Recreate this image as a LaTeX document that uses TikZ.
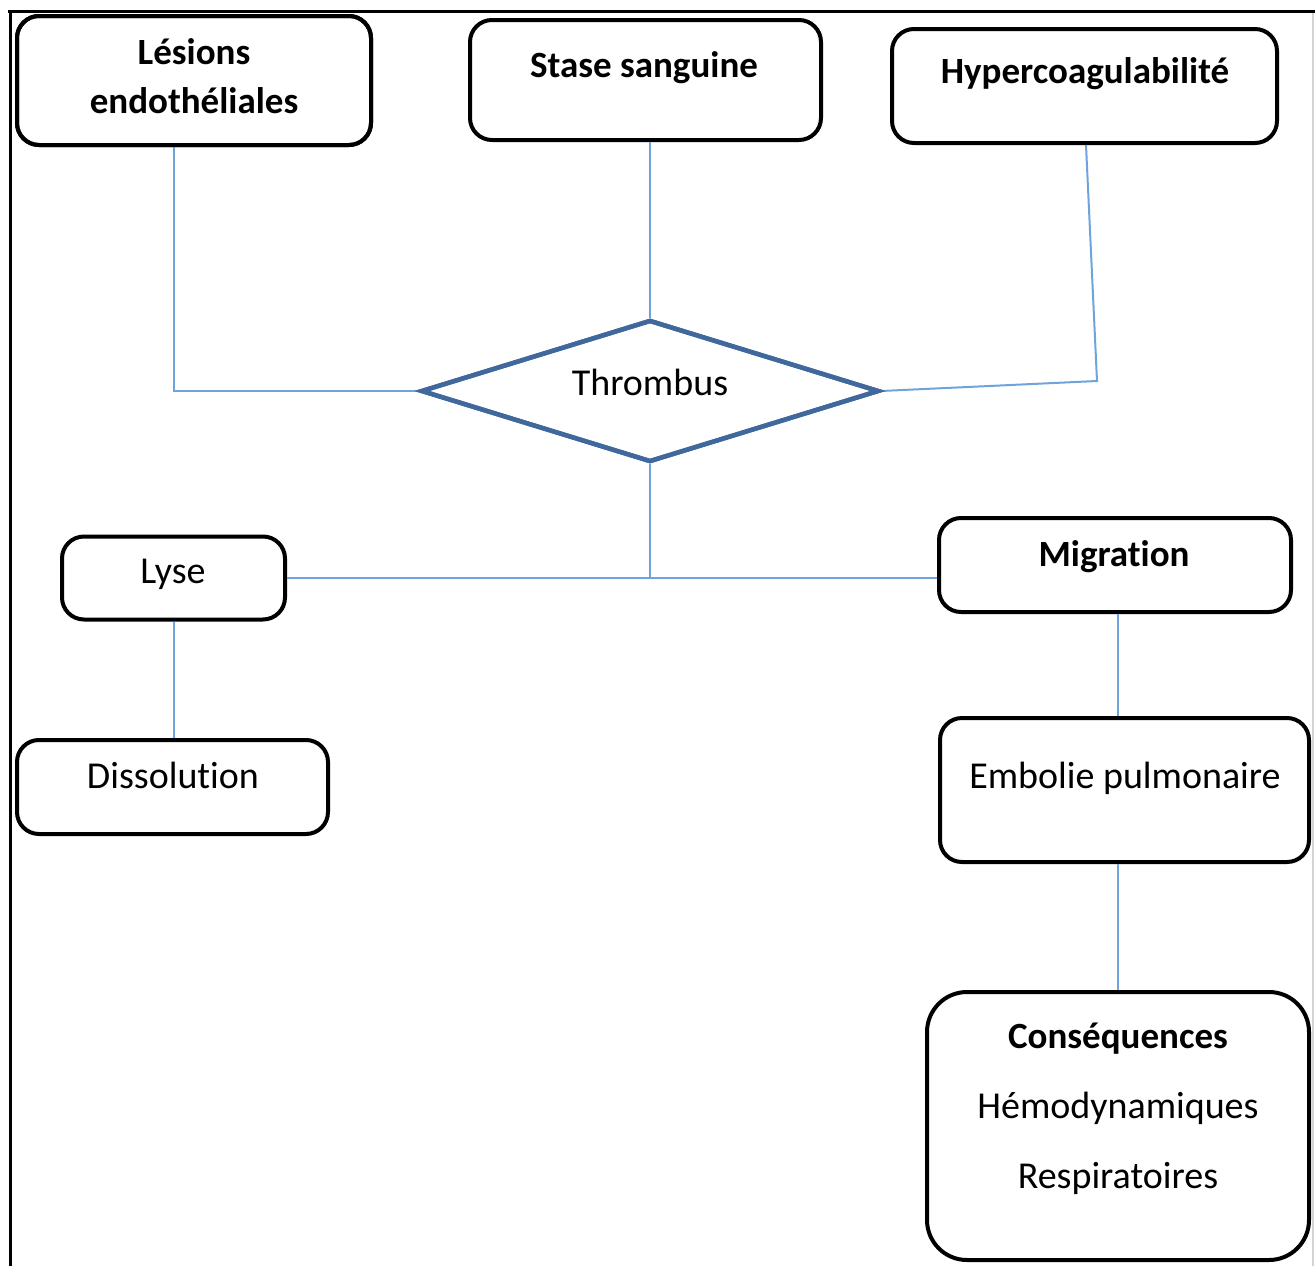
\documentclass[tikz,border=0pt]{standalone}
\usepackage{fontspec}
\setmainfont{Carlito}[Ligatures=NoCommon]
\usetikzlibrary{shapes.geometric,calc}
\definecolor{linkblue}{HTML}{6FA3DC}
\definecolor{diablue}{HTML}{41689C}
\definecolor{framegray}{HTML}{D4D4D4}
\tikzset{
  box/.style={draw=black, line width=4pt, rounded corners=22pt, fill=white, inner sep=0pt},
  bigbox/.style={box, rounded corners=40pt},
  lbl/.style={anchor=base, inner sep=0pt, font=\fontsize{38}{45}\selectfont},
  blbl/.style={lbl, font=\fontsize{37}{45}\selectfont\bfseries},
  link/.style={draw=linkblue, line width=2pt},
  dia/.style={diamond, draw=diablue, line width=4.5pt, fill=white, inner sep=0pt, minimum width=458pt, minimum height=142pt}
}
\begin{document}
\begin{tikzpicture}[x=1pt,y=-1pt]
\useasboundingbox (0,0) rectangle (1315,1266);
% page frame
\draw[black, line width=3pt] (8,11.5) -- (1315,11.5);
\draw[black, line width=3pt] (10.5,10) -- (10.5,1266);
\draw[framegray, line width=2pt] (1313,13) -- (1313,1266);

% boxes
\node[box, minimum width=354pt, minimum height=129pt] (lesions) at (194,80.5) {};
\node[box, minimum width=351pt, minimum height=120pt] (stase) at (645.5,80) {};
\node[box, minimum width=385pt, minimum height=114pt] (hyper) at (1084.5,86) {};
\node[dia] (thr) at (650,391) {};
\node[box, minimum width=223pt, minimum height=83pt] (lyse) at (173.5,578) {};
\node[box, minimum width=352pt, minimum height=94pt] (mig) at (1115,565) {};
\node[box, minimum width=311pt, minimum height=94pt] (diss) at (172.5,787) {};
\node[box, minimum width=369pt, minimum height=144pt] (emb) at (1124.5,790) {};
\node[bigbox, minimum width=382pt, minimum height=268pt] (cons) at (1118,1126) {};

% connectors
\coordinate (hk) at (1097,381);
\draw[link] ([xshift=-20pt]lesions.south) |- (thr.west);
\draw[link] ([xshift=4.5pt]stase.south) -- (thr.north);
\draw[link] ([xshift=1.5pt]hyper.south) -- (hk) -- (thr.east);
\draw[link] (thr.south) -- (thr.south |- lyse.east);
\draw[link] (lyse.east) -- (lyse.east -| mig.west);
\draw[link] (lyse.south) -- (lyse.south |- diss.north);
\draw[link] ([xshift=3pt]mig.south) -- ([xshift=3pt]mig.south |- emb.north);
\draw[link] (cons.north |- emb.south) -- (cons.north);

% redraw shapes' borders above the links
\node[box, minimum width=354pt, minimum height=129pt, fill=none] at (lesions) {};
\node[dia, fill=none] at (thr) {};

% labels
\node[blbl] (tLes1) at (194,64) {Lésions};
\node[blbl] (tLes2) at (194,113) {endothéliales};
\node[blbl] (tSta) at (644,77) {Stase sanguine};
\node[blbl] (tHyp) at (1085,83) {Hypercoagulabilité};
\node[lbl] (tThr) at (650,395) {Thrombus};
\node[lbl] (tLys) at (173,583) {Lyse};
\node[blbl] (tMig) at (1114,566) {Migration};
\node[lbl] (tDis) at (173,788) {Dissolution};
\node[lbl] (tEmb) at (1125,788) {Embolie pulmonaire};
\node[blbl] (tCon) at (1118,1048) {Conséquences};
\node[lbl] (tHem) at (1118,1118) {Hémodynamiques};
\node[lbl] (tRes) at (1118,1188) {Respiratoires};
\end{tikzpicture}
\end{document}
